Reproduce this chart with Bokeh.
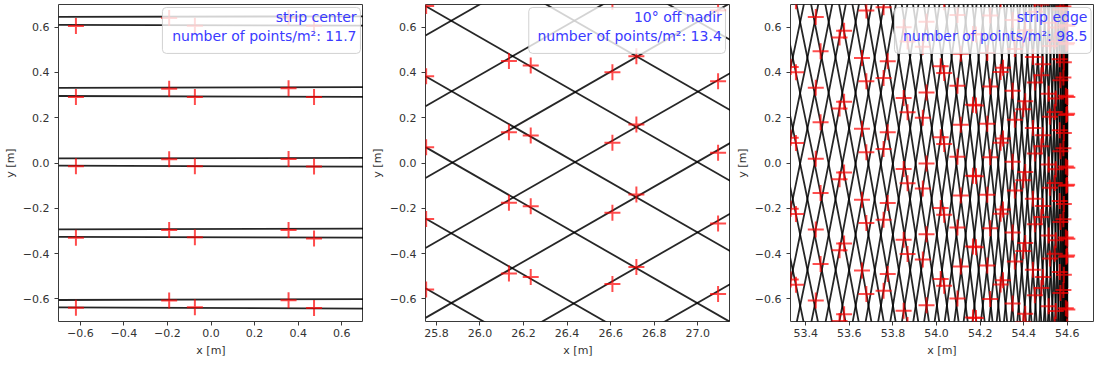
import numpy as np
from bokeh.plotting import figure
from bokeh.layouts import row
from bokeh.models import FixedTicker, BoxAnnotation, Label, Range1d
from bokeh.embed import file_html
from bokeh.resources import INLINE

FONT = "DejaVu Sans"

# ---------------- ticks / limits ----------------
y_ticks = [-0.6, -0.4, -0.2, 0.0, 0.2, 0.4, 0.6]
y_tick_labels = ["−0.6", "−0.4", "−0.2", "0.0", "0.2", "0.4", "0.6"]
p1_x_ticks = [-0.6, -0.4, -0.2, 0.0, 0.2, 0.4, 0.6]
p1_x_tick_labels = ["−0.6", "−0.4", "−0.2", "0.0", "0.2", "0.4", "0.6"]
p2_x_ticks = [25.8, 26.0, 26.2, 26.4, 26.6, 26.8, 27.0]
p2_x_tick_labels = ["25.8", "26.0", "26.2", "26.4", "26.6", "26.8", "27.0"]
p3_x_ticks = [53.4, 53.6, 53.8, 54.0, 54.2, 54.4, 54.6]
p3_x_tick_labels = ["53.4", "53.6", "53.8", "54.0", "54.2", "54.4", "54.6"]

p1_xlim = (-0.7, 0.7)
p2_xlim = (25.75, 27.15)
p3_xlim = (53.33, 54.72)
ylim = (-0.7, 0.7)

panel_titles = ["strip center", "10° off nadir", "strip edge"]
panel_density = ["11.7", "13.4", "98.5"]

# ---------------- panel 1: strip center ----------------
# scan lines: y at left / right frame edge
p1_line_y_left = [0.645, 0.332, 0.020, -0.293, -0.605, 0.610, 0.296, -0.012, -0.326, -0.638]
p1_line_y_right = [0.648, 0.335, 0.023, -0.290, -0.601, 0.607, 0.292, -0.016, -0.330, -0.643]
p1_pts_x = [-0.192, -0.192, -0.192, -0.192, -0.192,
            0.356, 0.356, 0.356, 0.356, 0.356,
            -0.620, -0.620, -0.620, -0.620, -0.620,
            -0.074, -0.074, -0.074, -0.074, -0.074,
            0.473, 0.473, 0.473, 0.473, 0.473]
p1_pts_y = [0.640, 0.328, 0.017, -0.296, -0.607,
            0.641, 0.330, 0.018, -0.296, -0.606,
            0.605, 0.292, -0.014, -0.330, -0.639,
            0.606, 0.292, -0.014, -0.328, -0.637,
            0.606, 0.291, -0.015, -0.333, -0.640]

# ---------------- panel 2: 10 deg off nadir ----------------
p2_rise_y_left = [-1.307, -0.996, -0.684, -0.375, -0.066, 0.251, 0.563]
p2_rise_y_right = [-0.534, -0.223, 0.089, 0.398, 0.707, 1.024, 1.336]
p2_fall_y_left = [1.316, 1.006, 0.693, 0.383, 0.070, -0.245, -0.553]
p2_fall_y_right = [0.543, 0.233, -0.080, -0.390, -0.703, -1.018, -1.326]
p2_pts_x = [25.753, 25.753, 25.753, 25.753, 25.753,
            26.133, 26.133, 26.133, 26.133,
            26.233, 26.233, 26.233, 26.233,
            26.608, 26.608, 26.608, 26.608, 26.608,
            26.718, 26.718, 26.718, 26.718,
            27.093, 27.093, 27.093, 27.093, 27.093]
p2_pts_y = [0.693, 0.383, 0.070, -0.247, -0.559,
            0.450, 0.136, -0.176, -0.488,
            0.431, 0.121, -0.191, -0.504,
            0.712, 0.401, 0.089, -0.220, -0.534,
            0.472, 0.170, -0.139, -0.459,
            0.674, 0.361, 0.045, -0.267, -0.578]

# ---------------- panel 3: strip edge ----------------
scan_radius = 54.6  # ground radius of the circular scan (lines turn back there)
# y where each half-sweep turns back at the strip edge
p3_upper_turn_y = [-12.446, -12.133, -11.820, -11.507, -11.194, -10.881, -10.568, -10.255,
                   -9.942, -9.629, -9.316, -9.003, -8.690, -8.377, -8.064, -7.751, -7.438,
                   -7.125, -6.812, -6.499, -6.186, -5.873, -5.560, -5.247, -4.934, -4.621,
                   -4.308, -3.995, -3.682, -3.369, -3.056, -2.743, -2.430, -2.117, -1.804,
                   -1.491, -1.178, -0.865, -0.552, -0.239, 0.074, 0.387, 0.700]
p3_lower_turn_y = [-0.707, -0.394, -0.081, 0.232, 0.545, 0.858, 1.171, 1.484, 1.797, 2.110,
                   2.423, 2.736, 3.049, 3.362, 3.675, 3.988, 4.301, 4.614, 4.927, 5.240,
                   5.553, 5.866, 6.179, 6.492, 6.805, 7.118, 7.431, 7.744, 8.057, 8.370,
                   8.683, 8.996, 9.309, 9.622, 9.935, 10.248, 10.561, 10.874, 11.187,
                   11.500, 11.813, 12.126, 12.439]
# laser points, column by column
p3_col_x = [53.355, 53.468, 53.576, 53.678, 53.776, 53.867, 53.954, 54.035, 54.111, 54.181,
            54.246, 54.305, 54.359, 54.407, 54.451, 54.488, 54.520, 54.547, 54.568, 54.584,
            54.595, 54.600, 54.599, 54.593, 54.582, 54.565, 54.542, 54.514, 54.481, 54.442,
            54.398, 54.349, 54.294, 54.233, 54.167, 54.096, 54.019, 53.937, 53.849, 53.757,
            53.658, 53.555, 53.446, 53.331]
p3_col_y = [
    [-0.538, -0.225, 0.088, 0.401, 0.714],
    [-0.446, -0.133, 0.180, 0.493],
    [-0.668, -0.355, -0.042, 0.271, 0.584],
    [-0.578, -0.265, 0.048, 0.361, 0.674],
    [-0.490, -0.177, 0.136, 0.449],
    [-0.715, -0.402, -0.089, 0.224, 0.537],
    [-0.628, -0.315, -0.002, 0.311, 0.624],
    [-0.542, -0.229, 0.084, 0.397, 0.710],
    [-0.457, -0.144, 0.169, 0.482],
    [-0.685, -0.372, -0.059, 0.254, 0.567],
    [-0.601, -0.288, 0.025, 0.338, 0.651],
    [-0.518, -0.205, 0.108, 0.421],
    [-0.435, -0.122, 0.191, 0.504],
    [-0.666, -0.353, -0.040, 0.273, 0.586],
    [-0.584, -0.271, 0.042, 0.355, 0.668],
    [-0.503, -0.190, 0.123, 0.436],
    [-0.422, -0.109, 0.204, 0.517],
    [-0.654, -0.341, -0.028, 0.285, 0.598],
    [-0.574, -0.261, 0.052, 0.365, 0.678],
    [-0.494, -0.181, 0.132, 0.445],
    [-0.414, -0.101, 0.212, 0.525],
    [-0.647, -0.334, -0.021, 0.292, 0.605],
    [-0.722, -0.409, -0.096, 0.217, 0.530],
    [-0.642, -0.329, -0.016, 0.297, 0.610],
    [-0.561, -0.248, 0.065, 0.378, 0.691],
    [-0.481, -0.168, 0.145, 0.458],
    [-0.714, -0.401, -0.088, 0.225, 0.538],
    [-0.633, -0.320, -0.007, 0.306, 0.619],
    [-0.552, -0.239, 0.074, 0.387, 0.700],
    [-0.471, -0.158, 0.155, 0.468],
    [-0.702, -0.389, -0.076, 0.237, 0.550],
    [-0.620, -0.307, 0.006, 0.319, 0.632],
    [-0.537, -0.224, 0.089, 0.402, 0.715],
    [-0.453, -0.140, 0.173, 0.486],
    [-0.682, -0.369, -0.056, 0.257, 0.570],
    [-0.598, -0.285, 0.028, 0.341, 0.654],
    [-0.512, -0.199, 0.114, 0.427],
    [-0.426, -0.113, 0.200, 0.513],
    [-0.652, -0.339, -0.026, 0.287, 0.600],
    [-0.564, -0.251, 0.062, 0.375, 0.688],
    [-0.475, -0.162, 0.151, 0.464],
    [-0.698, -0.385, -0.072, 0.241, 0.554],
    [-0.607, -0.294, 0.019, 0.332, 0.645],
    [-0.515, -0.202, 0.111, 0.424],
]

# ---------------- styles / layout ----------------
LINE_KW = dict(line_color="black", line_width=1.8, line_alpha=0.85)
PT_KW = dict(marker="cross", size=16, line_color="red", line_width=2.0, line_alpha=0.7)
TXT_COLOR = "#3a3aff"
FRAME_H = 317

# legend boxes (data coords): left, right, top, bottom, text right edge
legend_geom = [
    (-0.223, 0.686, 0.687, 0.484, 0.668),
    (26.224, 27.127, 0.687, 0.484, 27.110),
    (53.807, 54.709, 0.687, 0.484, 54.692),
]


def make_panel(xlim, xt, xtl, frame_w, left_b, right_b):
    p = figure(frame_width=frame_w, frame_height=FRAME_H,
               x_range=Range1d(*xlim), y_range=Range1d(*ylim),
               output_backend="svg", toolbar_location=None,
               min_border_left=left_b, min_border_right=right_b,
               min_border_top=4, min_border_bottom=38)
    p.grid.visible = False
    p.background_fill_color = "white"
    p.border_fill_color = "white"
    p.outline_line_color = "#3a3a3a"
    p.outline_line_width = 1
    for ax, ticks, labels in ((p.xaxis[0], xt, xtl), (p.yaxis[0], y_ticks, y_tick_labels)):
        ax.ticker = FixedTicker(ticks=ticks)
        ax.major_label_overrides = dict(zip(ticks, labels))
        ax.major_tick_out = 4
        ax.major_tick_in = 0
        ax.minor_tick_out = 0
        ax.minor_tick_in = 0
        ax.axis_line_color = None
        ax.major_tick_line_color = "#3a3a3a"
        ax.major_label_text_font = FONT
        ax.major_label_text_font_size = "11px"
        ax.major_label_text_color = "#333333"
        ax.axis_label_text_font = FONT
        ax.axis_label_text_font_size = "11px"
        ax.axis_label_text_font_style = "normal"
        ax.axis_label_text_color = "#333333"
    p.xaxis.axis_label = "x [m]"
    p.yaxis.axis_label = "y [m]"
    p.xaxis.major_label_standoff = 3
    p.xaxis.axis_label_standoff = 4
    p.yaxis.major_label_standoff = 5
    p.yaxis.axis_label_standoff = 3
    return p


def add_legend(p, i):
    l, r, t, b, tx = legend_geom[i]
    p.add_layout(BoxAnnotation(left=l, right=r, top=t, bottom=b,
                               fill_color="white", fill_alpha=0.8,
                               line_color="#cccccc", line_alpha=0.9, line_width=1,
                               border_radius=4))
    ty1 = t - 0.040
    ty2 = t - 0.128
    for txt, ty in ((panel_titles[i], ty1), ("number of points/m²: " + panel_density[i], ty2)):
        p.add_layout(Label(x=tx, y=ty, text=txt, text_align="right", text_baseline="middle",
                           text_font=FONT, text_font_size="14px", text_color=TXT_COLOR))


# panel 1
f1 = make_panel(p1_xlim, p1_x_ticks, p1_x_tick_labels, 305, 51, 0)
n1 = len(p1_line_y_left)
f1.segment(x0=[p1_xlim[0]] * n1, y0=p1_line_y_left, x1=[p1_xlim[1]] * n1, y1=p1_line_y_right, **LINE_KW)
f1.scatter(p1_pts_x, p1_pts_y, **PT_KW)
add_legend(f1, 0)

# panel 2
f2 = make_panel(p2_xlim, p2_x_ticks, p2_x_tick_labels, 305, 62, 0)
n2 = len(p2_rise_y_left)
f2.segment(x0=[p2_xlim[0]] * n2, y0=p2_rise_y_left, x1=[p2_xlim[1]] * n2, y1=p2_rise_y_right, **LINE_KW)
f2.segment(x0=[p2_xlim[0]] * n2, y0=p2_fall_y_left, x1=[p2_xlim[1]] * n2, y1=p2_fall_y_right, **LINE_KW)
f2.scatter(p2_pts_x, p2_pts_y, **PT_KW)
add_legend(f2, 1)

# panel 3: each half-sweep is a circular arc of the scan, drawn as a cubic Bezier
f3 = make_panel(p3_xlim, p3_x_ticks, p3_x_tick_labels, 303, 60, 1)
span = 0.25
kk = 4.0 / 3.0 * np.tan(span / 4.0) * scan_radius
cs, sn = np.cos(span), np.sin(span)
R = scan_radius
up = np.array(p3_upper_turn_y)
lo = np.array(p3_lower_turn_y)
f3.bezier(x0=R * cs, y0=up + R * sn, x1=R, y1=up,
          cx0=R * cs + kk * sn, cy0=up + R * sn - kk * cs, cx1=R, cy1=up + kk, **LINE_KW)
f3.bezier(x0=R, y0=lo, x1=R * cs, y1=lo - R * sn,
          cx0=R, cy0=lo - kk, cx1=R * cs + kk * sn, cy1=lo - R * sn + kk * cs, **LINE_KW)
p3_pts_x = [x for x, col in zip(p3_col_x, p3_col_y) for _ in col]
p3_pts_y = [y for col in p3_col_y for y in col]
f3.scatter(p3_pts_x, p3_pts_y, **PT_KW)
add_legend(f3, 2)

layout = row(f1, f2, f3)
open("out.html", "w").write(file_html(layout, INLINE))
